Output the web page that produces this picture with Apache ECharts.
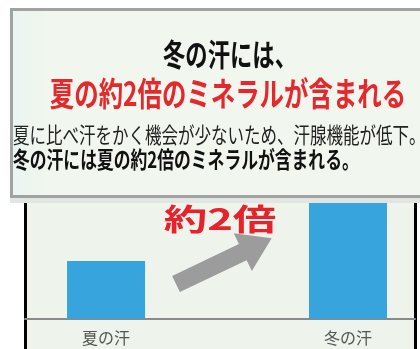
<!DOCTYPE html>
<html>
<head>
<meta charset="utf-8">
<style>
html,body{margin:0;padding:0;background:#ffffff;}
#chart{width:420px;height:349px;}
</style>
<script src="https://cdn.jsdelivr.net/npm/echarts@6/dist/echarts.min.js"></script>
</head>
<body>
<div id="chart"></div>
<script>
// ---- data ----
const categories = ['夏の汗', '冬の汗'];
const categoryPositions = [0, 1];
const mineralValues = [1, 2];
const titleLine1 = '冬の汗には、';
const titleLine2 = '夏の約2倍のミネラルが含まれる';
const noteLine1 = '夏に比べ汗をかく機会が少ないため、汗腺機能が低下。';
const noteLine2 = '冬の汗には夏の約2倍のミネラルが含まれる。';
const ratioLabel = '約2倍';

const FONT = '"Noto Sans CJK JP", "Noto Sans", sans-serif';
const chart = echarts.init(document.getElementById('chart'), null, {renderer: 'canvas'});

const barData = categoryPositions.map((x, i) => [x, mineralValues[i]]);

chart.setOption({
  animation: false,
  backgroundColor: '#ffffff',
  grid: {
    left: 25, right: 5, top: 203, bottom: 0,
    containLabel: false, outerBoundsMode: 'none',
    show: true, borderWidth: 0, backgroundColor: '#eef3ec'
  },
  xAxis: {
    type: 'value', min: -0.335, max: 1.277,
    splitLine: {show: false},
    axisTick: {show: false},
    axisLine: {show: true, onZero: true, lineStyle: {color: '#8a8a8a', width: 2}},
    axisLabel: {show: false}
  },
  yAxis: [
    {
      type: 'value', min: -0.52, max: 2, position: 'left',
      splitLine: {show: false}, axisTick: {show: false}, axisLabel: {show: false},
      axisLine: {show: true, onZero: false, lineStyle: {color: '#000000', width: 3}}
    },
    {
      type: 'value', min: -0.52, max: 2, position: 'right',
      splitLine: {show: false}, axisTick: {show: false}, axisLabel: {show: false},
      axisLine: {show: true, onZero: false, lineStyle: {color: '#000000', width: 3}}
    }
  ],
  series: [{
    type: 'bar',
    data: barData,
    barWidth: 78,
    itemStyle: {color: '#37a4dd'},
    label: {
      show: true, position: 'bottom', distance: 11,
      formatter: p => categories[p.dataIndex],
      color: '#555555', fontSize: 16, fontFamily: FONT
    },
    z: 2
  }],
  graphic: [
    // header box
    {
      type: 'rect', z: 10,
      shape: {x: 11.5, y: 9.5, width: 420, height: 187},
      style: {
        fill: {type: 'linear', x: 0, y: 0, x2: 1, y2: 0,
               colorStops: [{offset: 0, color: '#e9f5f1'}, {offset: 0.08, color: '#f1f6ee'}, {offset: 1, color: '#f1f6ee'}]},
        stroke: '#a2a2a2', lineWidth: 3
      }
    },
    {
      type: 'rect', z: 10,
      shape: {x: 10, y: 198, width: 410, height: 5},
      style: {fill: '#e2e6e0'}
    },
    {
      type: 'text', z: 11, x: 230, y: 54, scaleX: 0.72,
      style: {text: titleLine1, fill: '#111111', font: 'bold 31px ' + FONT, textAlign: 'center', textVerticalAlign: 'middle'}
    },
    {
      type: 'text', z: 11, x: 228, y: 93, scaleX: 0.74,
      style: {text: titleLine2, fill: '#e4282b', font: 'bold 33px ' + FONT, textAlign: 'center', textVerticalAlign: 'middle'}
    },
    {
      type: 'text', z: 11, x: 13, y: 135, scaleX: 0.75,
      style: {text: noteLine1, fill: '#222222', font: '22px ' + FONT, textAlign: 'left', textVerticalAlign: 'middle'}
    },
    {
      type: 'text', z: 11, x: 13, y: 159, scaleX: 0.73,
      style: {text: noteLine2, fill: '#111111', font: 'bold 23px ' + FONT, textAlign: 'left', textVerticalAlign: 'middle'}
    },
    // arrow
    {
      type: 'polygon', z: 5, x: 176, y: 284, rotation: 0.445,
      shape: {points: [[0, -9], [74, -9], [74, -21], [106, 0], [74, 21], [74, 9], [0, 9]]},
      style: {fill: '#9c9c9c'}
    },
    {
      type: 'text', z: 6, x: 220, y: 219, scaleX: 1.45,
      style: {text: ratioLabel, fill: '#e8222b', font: 'bold 30px ' + FONT, textAlign: 'center', textVerticalAlign: 'middle'}
    }
  ]
});
</script>
</body>
</html>
